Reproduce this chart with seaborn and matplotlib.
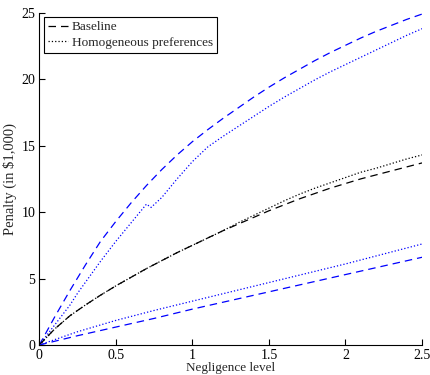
import numpy as np
import pandas as pd
import matplotlib
matplotlib.use("Agg")
import matplotlib.pyplot as plt
import seaborn as sns

# ---- data ----
x_grid = [0.0, 0.1, 0.2, 0.3, 0.4, 0.5, 0.6, 0.7, 0.8, 0.9, 1.0, 1.1, 1.2,
          1.3, 1.4, 1.5, 1.6, 1.7, 1.8, 1.9, 2.0, 2.1, 2.2, 2.3, 2.4, 2.5]

baseline_high = [0.0, 2.1, 4.1, 6.0, 7.8, 9.3, 10.7, 12.0, 13.2, 14.3, 15.3, 16.2, 17.05,
                 17.85, 18.65, 19.4, 20.1, 20.75, 21.4, 22.0, 22.55, 23.1, 23.6, 24.05, 24.5, 24.9]

homog_high_x = [0.0, 0.1, 0.2, 0.25, 0.3, 0.4, 0.5, 0.6, 0.7, 0.73, 0.8, 0.9, 1.0, 1.1, 1.2,
                1.3, 1.4, 1.5, 1.6, 1.7, 1.8, 1.9, 2.0, 2.1, 2.2, 2.3, 2.4, 2.5]
homog_high = [0.0, 1.5, 3.0, 3.9, 4.7, 6.3, 7.8, 9.2, 10.6, 10.35, 11.1, 12.5, 13.8, 14.9, 15.7,
              16.45, 17.2, 17.95, 18.65, 19.3, 19.95, 20.55, 21.1, 21.65, 22.2, 22.75, 23.3, 23.8]

baseline_mid = [0.0, 1.2, 2.2, 3.0, 3.75, 4.45, 5.1, 5.75, 6.35, 6.95, 7.5, 8.05, 8.6,
                9.1, 9.6, 10.1, 10.55, 11.0, 11.4, 11.8, 12.15, 12.5, 12.8, 13.1, 13.4, 13.7]

homog_mid = [0.0, 1.2, 2.2, 3.0, 3.75, 4.45, 5.1, 5.75, 6.35, 6.95, 7.5, 8.05, 8.6,
             9.2, 9.75, 10.3, 10.85, 11.35, 11.8, 12.2, 12.6, 13.0, 13.3, 13.65, 14.0, 14.3]

low_x = [0.0, 0.25, 0.5, 0.75, 1.0, 1.25, 1.5, 1.75, 2.0, 2.25, 2.5]
homog_low = [0.0, 1.0, 1.85, 2.6, 3.3, 4.0, 4.7, 5.4, 6.1, 6.85, 7.6]
baseline_low = [0.0, 0.7, 1.35, 2.0, 2.7, 3.35, 4.0, 4.65, 5.3, 5.95, 6.6]

x_ticks = [0, 0.5, 1, 1.5, 2, 2.5]
x_tick_labels = ["0", "0.5", "1", "1.5", "2", "2.5"]
y_ticks = [0, 5, 10, 15, 20, 25]
y_tick_labels = ["0", "5", "10", "15", "20", "25"]

# ---- plotting ----
sns.set_theme(style="ticks", font="Liberation Serif")
plt.rcParams["font.family"] = ["Liberation Serif", "DejaVu Serif"]
plt.rcParams["xtick.direction"] = "in"
plt.rcParams["ytick.direction"] = "in"

fig = plt.figure(figsize=(4.31, 3.75), dpi=100)
ax = fig.add_axes([0.0912, 0.08, 0.888, 0.886])

blue = "#0000ff"
dash = (6, 4)
lw = 0.9

def draw(xs, ys, color, style, label=None):
    df = pd.DataFrame({"x": xs, "y": ys})
    sns.lineplot(data=df, x="x", y="y", ax=ax, color=color, linewidth=lw,
                 label=label, legend=False, estimator=None, sort=False)
    line = ax.get_lines()[-1]
    if style == "dash":
        line.set_dashes(dash)
    else:
        line.set_linestyle(":")
    return line

draw(x_grid, baseline_high, blue, "dash")
draw(homog_high_x, homog_high, blue, "dot")
l1 = draw(x_grid, baseline_mid, "black", "dash", "Baseline")
l2 = draw(x_grid, homog_mid, "black", "dot", "Homogeneous preferences")
draw(low_x, homog_low, blue, "dot")
draw(low_x, baseline_low, blue, "dash")

ax.set_xlim(0, 2.5)
ax.set_ylim(0, 25)
ax.set_xticks(x_ticks)
ax.set_xticklabels(x_tick_labels)
ax.set_yticks(y_ticks)
ax.set_yticklabels(y_tick_labels)
ax.tick_params(axis="both", labelsize=10, length=4, width=0.8, colors="black", pad=3)
ax.set_xlabel("Negligence level", fontsize=9.5, labelpad=0)
ax.set_ylabel("Penalty (in \\$1,000)", fontsize=10.5, labelpad=3)
for s in ["top", "right"]:
    ax.spines[s].set_visible(False)
for s in ["left", "bottom"]:
    ax.spines[s].set_color("black")
    ax.spines[s].set_linewidth(0.8)

leg = ax.legend(handles=[l1, l2], labels=["Baseline", "Homogeneous preferences"],
                loc="upper left", bbox_to_anchor=(0.005, 0.995), fontsize=9.5,
                frameon=True, fancybox=False, framealpha=1, edgecolor="black",
                handlelength=1.5, handletextpad=0.3, borderpad=0.3, labelspacing=0.25,
                borderaxespad=0.2)
leg.get_frame().set_linewidth(0.8)

fig.savefig("out.png", dpi=100)
